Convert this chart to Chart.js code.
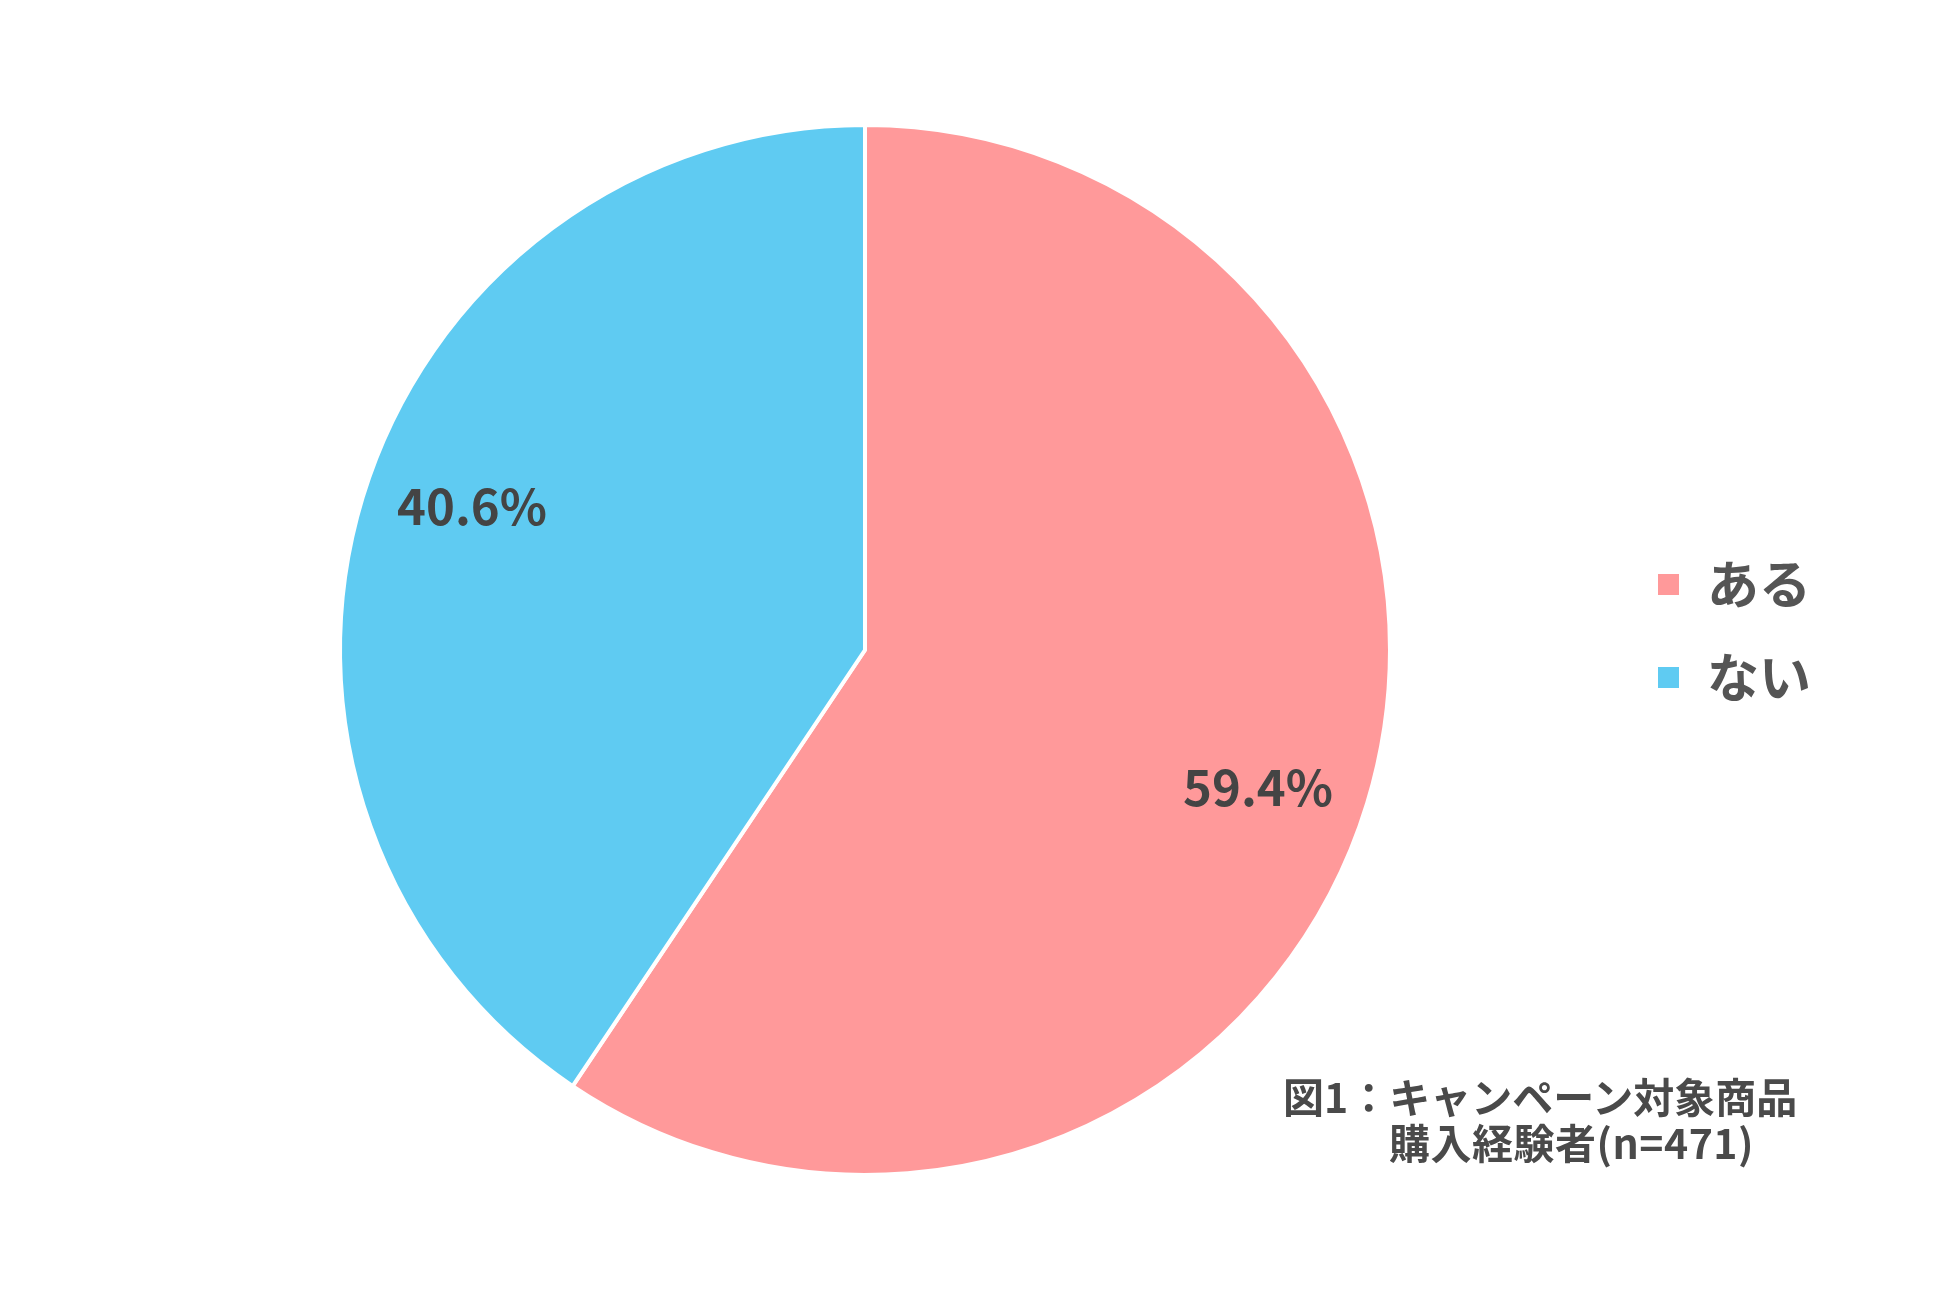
<!DOCTYPE html>
<html lang="ja">
<head>
<meta charset="UTF-8">
<title>キャンペーン対象商品 購入経験者</title>
<script src="https://cdn.jsdelivr.net/npm/chart.js"></script>
<style>
    body { margin: 0; background: #fff; }
    .wrap { position: relative; width: 1950px; height: 1300px; }
    .caption {
        position: absolute; left: 1283px; top: 1072px;
        font-family: "Noto Sans CJK JP"; font-weight: bold;
        font-size: 41px; line-height: 46px; color: #4a4a4a;
        white-space: nowrap;
    }
    .caption .indent { padding-left: 106px; letter-spacing: 0.5px; }
</style>
</head>
<body>
<div class="wrap">
    <canvas id="pieChart" width="1950" height="1300"></canvas>
    <div class="caption">
        <div>図1：キャンペーン対象商品</div>
        <div class="indent">購入経験者(n=471)</div>
    </div>
</div>

<script>
    const labels = ['ある', 'ない'];
    const percents = [59.4, 40.6];
    const colors = ['#FF999A', '#5FCBF2'];

    // percentage text inside each slice
    const sliceLabels = {
        id: 'sliceLabels',
        afterDatasetsDraw(chart) {
            const ctx = chart.ctx;
            const meta = chart.getDatasetMeta(0);
            ctx.save();
            ctx.font = 'bold 49px "Noto Sans CJK JP"';
            ctx.fillStyle = '#444444';
            ctx.textAlign = 'center';
            ctx.textBaseline = 'middle';
            meta.data.forEach((arc, i) => {
                const p = arc.getProps(['x', 'y', 'startAngle', 'endAngle', 'outerRadius'], true);
                const ang = (p.startAngle + p.endAngle) / 2 + 0.048;
                const r = p.outerRadius * 0.795;
                ctx.fillText(percents[i].toFixed(1) + '%', p.x + Math.cos(ang) * r, p.y + Math.sin(ang) * r - 3);
            });
            ctx.restore();
        }
    };

    // legend sits a little above the pie centre
    const legendShift = {
        id: 'legendShift',
        afterLayout(chart) {
            chart.legend.top -= 19;
            chart.legend.bottom -= 19;
        }
    };

    new Chart(document.getElementById('pieChart').getContext('2d'), {
        type: 'pie',
        data: {
            labels: labels,
            datasets: [{
                data: percents,
                backgroundColor: colors,
                borderColor: '#ffffff',
                borderWidth: 4,
                hoverOffset: 0,
                radius: 525
            }]
        },
        options: {
            responsive: false,
            animation: false,
            layout: { padding: { left: 115, right: 129, top: 120, bottom: 120 } },
            plugins: {
                tooltip: { enabled: false },
                legend: {
                    position: 'right',
                    labels: {
                        boxWidth: 25,
                        boxHeight: 25,
                        padding: 41,
                        color: '#555555',
                        font: { family: '"Noto Sans CJK JP"', size: 52, weight: 'bold' }
                    }
                }
            }
        },
        plugins: [sliceLabels, legendShift]
    });
</script>
</body>
</html>
